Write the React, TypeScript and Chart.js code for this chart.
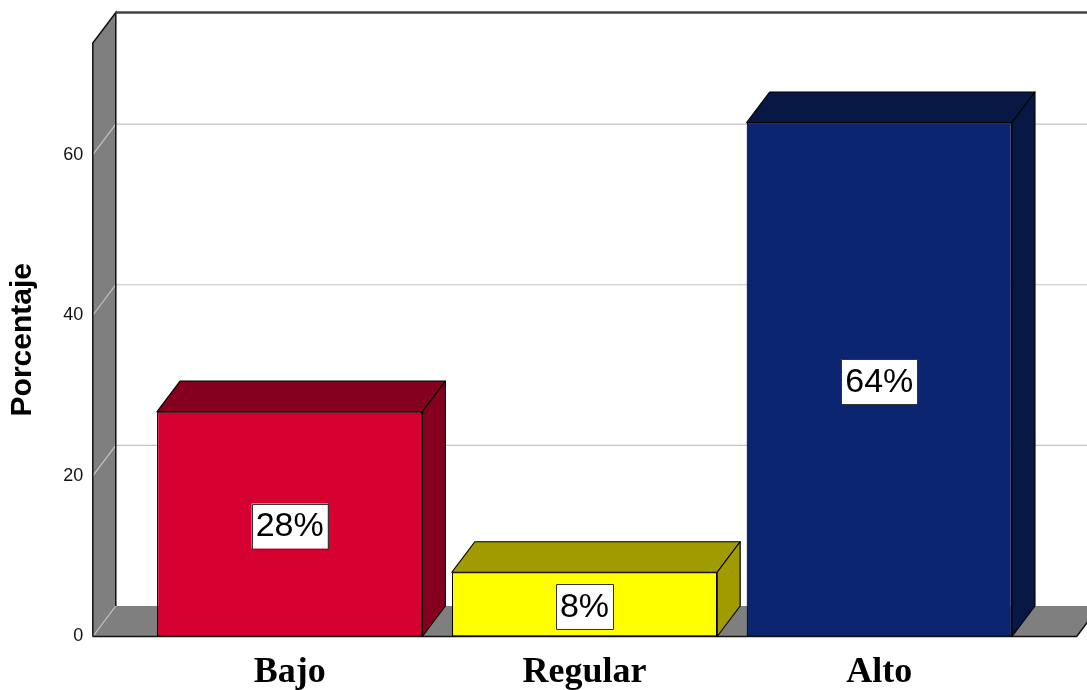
import React, { useEffect, useRef } from 'react';
import { Chart, registerables } from 'chart.js';

Chart.register(...registerables);

// ---- data ----
const categories: string[] = ['Bajo', 'Regular', 'Alto'];
const percentages: number[] = [28, 8, 64];
const valueLabels: string[] = ['28%', '8%', '64%'];
const yAxisTitle = 'Porcentaje';

// ---- style ----
const frontColors = ['#D5002F', '#FFFF00', '#0B2571'];
const shadeColors = ['#85001F', '#A19B00', '#071844'];
const WALL_GRAY = '#7F7F7F';
const GRID_GRAY = '#C4C4C4';
const DX = 23;
const DY = 30.5;
const WALL_PAD_L = 49.5;
const WALL_PAD_R = 50;
const SANS = '"Liberation Sans", Arial, sans-serif';
const SERIF = '"Liberation Serif", "Times New Roman", serif';

const threeD = {
  id: 'threeD',
  beforeDatasetsDraw(chart: any) {
    const { ctx, chartArea } = chart;
    const ys = chart.scales.y;
    const x0 = chartArea.left - WALL_PAD_L;
    const x1 = chartArea.right + WALL_PAD_R;
    const top = chartArea.top;
    const bottom = chartArea.bottom;
    ctx.save();
    ctx.lineJoin = 'miter';

    // floor
    ctx.beginPath();
    ctx.moveTo(x0, bottom);
    ctx.lineTo(x0 + DX, bottom - DY);
    ctx.lineTo(x1 + DX, bottom - DY);
    ctx.lineTo(x1, bottom);
    ctx.closePath();
    ctx.fillStyle = WALL_GRAY;
    ctx.fill();

    // left wall
    ctx.beginPath();
    ctx.moveTo(x0, top);
    ctx.lineTo(x0 + DX, top - DY);
    ctx.lineTo(x0 + DX, bottom - DY);
    ctx.lineTo(x0, bottom);
    ctx.closePath();
    ctx.fillStyle = WALL_GRAY;
    ctx.fill();

    // grid lines (wall diagonal + back wall)
    ctx.strokeStyle = GRID_GRAY;
    ctx.lineWidth = 1.2;
    ys.ticks.forEach((t: any) => {
      const py = ys.getPixelForValue(t.value);
      ctx.beginPath();
      ctx.moveTo(x0, py);
      ctx.lineTo(x0 + DX, py - DY);
      if (t.value !== 0) ctx.lineTo(x1 + DX + 20, py - DY);
      ctx.stroke();
    });

    // wall outlines
    ctx.strokeStyle = '#111';
    ctx.lineWidth = 1.5;
    ctx.beginPath();
    ctx.moveTo(x0, bottom);
    ctx.lineTo(x0, top);
    ctx.lineTo(x0 + DX, top - DY);
    ctx.lineTo(x0 + DX, bottom - DY);
    ctx.stroke();

    // floor front edge and right edge
    ctx.beginPath();
    ctx.moveTo(x0, bottom);
    ctx.lineTo(x1, bottom);
    ctx.lineTo(x1 + DX, bottom - DY);
    ctx.stroke();

    // back wall top edge
    ctx.strokeStyle = '#444';
    ctx.lineWidth = 2.5;
    ctx.beginPath();
    ctx.moveTo(x0 + DX, top - DY);
    ctx.lineTo(x1 + DX + 20, top - DY);
    ctx.stroke();
    ctx.restore();
  },
  afterDatasetsDraw(chart: any) {
    const { ctx } = chart;
    const meta = chart.getDatasetMeta(0);
    ctx.save();
    meta.data.forEach((bar: any, i: number) => {
      const { x, y, base, width } = bar.getProps(['x', 'y', 'base', 'width'], true);
      const l = x - width / 2;
      const r = x + width / 2;
      ctx.fillStyle = shadeColors[i];
      ctx.strokeStyle = '#000';
      ctx.lineWidth = 1.2;
      ctx.lineJoin = 'round';
      // top face
      ctx.beginPath();
      ctx.moveTo(l, y);
      ctx.lineTo(l + DX, y - DY);
      ctx.lineTo(r + DX, y - DY);
      ctx.lineTo(r, y);
      ctx.closePath();
      ctx.fill();
      ctx.stroke();
      // side face
      ctx.beginPath();
      ctx.moveTo(r, y);
      ctx.lineTo(r + DX, y - DY);
      ctx.lineTo(r + DX, base - DY);
      ctx.lineTo(r, base);
      ctx.closePath();
      ctx.fill();
      ctx.stroke();
    });
    // value labels
    meta.data.forEach((bar: any, i: number) => {
      const { x, y, base } = bar.getProps(['x', 'y', 'base'], true);
      const cy = (y + base) / 2 + 2;
      const fs = 34;
      ctx.font = `${fs}px ${SANS}`;
      const tw = ctx.measureText(valueLabels[i]).width;
      const bw = tw + 8;
      const bh = 45;
      ctx.fillStyle = '#fff';
      ctx.fillRect(x - bw / 2, cy - bh / 2, bw, bh);
      ctx.strokeStyle = '#333';
      ctx.lineWidth = 1;
      ctx.strokeRect(Math.round(x - bw / 2) + 0.5, Math.round(cy - bh / 2) + 0.5, Math.round(bw), Math.round(bh));
      ctx.fillStyle = '#000';
      ctx.textAlign = 'center';
      ctx.textBaseline = 'middle';
      ctx.fillText(valueLabels[i], x, cy + 1);
    });
    ctx.restore();
  },
};

export default function App() {
  const ref = useRef<HTMLCanvasElement | null>(null);
  useEffect(() => {
    if (!ref.current) return;
    const chart = new Chart(ref.current, {
      type: 'bar',
      data: {
        labels: categories,
        datasets: [
          {
            data: percentages,
            backgroundColor: frontColors,
            borderColor: '#000',
            borderWidth: 1.2,
            borderSkipped: false,
            barPercentage: 0.9,
            categoryPercentage: 1,
          },
        ],
      },
      options: {
        responsive: false,
        animation: false,
        devicePixelRatio: 1,
        layout: { padding: { top: 43, right: 60.3, left: 0, bottom: 0 } },
        plugins: { legend: { display: false }, tooltip: { enabled: false } },
        scales: {
          x: {
            grid: { display: false, drawTicks: false },
            border: { display: false },
            ticks: {
              font: { family: SERIF, size: 36, weight: 'bold' },
              color: '#000',
              padding: 15,
            },
            afterFit: (s: any) => {
              s.height = 53.5;
            },
          },
          y: {
            min: 0,
            max: 73.9,
            grid: { display: false, drawTicks: false },
            border: { display: false },
            ticks: {
              stepSize: 20,
              includeBounds: false,
              font: { family: SANS, size: 18 },
              color: '#111',
              padding: 59,
            },
            title: {
              display: true,
              text: yAxisTitle,
              font: { family: SANS, size: 30, weight: 'bold' },
              color: '#000',
              padding: { top: 5, bottom: 0 },
            },
            afterFit: (s: any) => {
              s.width = 142.3;
              s.paddingTop = 10;
              s.paddingBottom = 10;
            },
          },
        },
      },
      plugins: [threeD],
    });
    return () => chart.destroy();
  }, []);
  return (
    <div style={{ position: 'absolute', left: 0, top: 0, width: 1087, height: 690, background: '#fff' }}>
      <canvas ref={ref} width={1087} height={690} style={{ width: 1087, height: 690, display: 'block' }} />
    </div>
  );
}
